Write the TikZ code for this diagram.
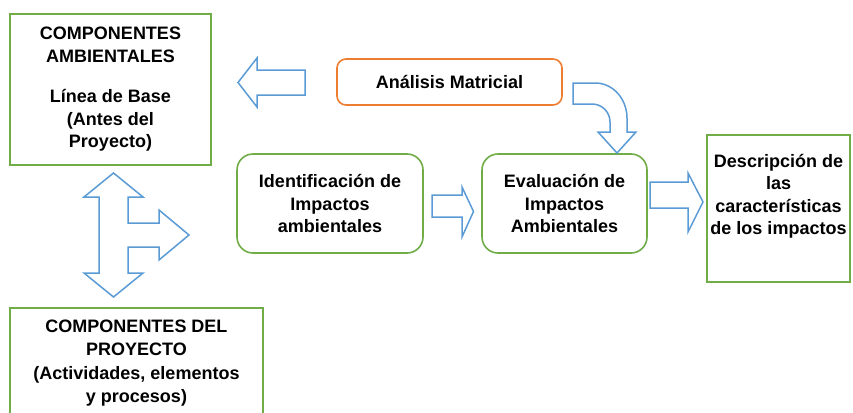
\documentclass[tikz,border=0pt]{standalone}
\usepackage{fontspec}
\setmainfont{Liberation Sans}
\definecolor{boxgreen}{HTML}{70AD47}
\definecolor{boxorange}{HTML}{ED7D31}
\definecolor{arrowblue}{HTML}{5B9BD5}
\begin{document}
\begin{tikzpicture}[x=1pt,y=-1pt,
  txt/.style={align=center,font=\bfseries\fontsize{18}{22.5}\selectfont,text=black},
  greenbox/.style={draw=boxgreen,line width=1.6pt,fill=white,inner sep=0pt},
  roundgreen/.style={greenbox,rounded corners=16pt},
  orangebox/.style={draw=boxorange,line width=1.6pt,rounded corners=9pt,inner sep=0pt},
  blockarrow/.style={draw=arrowblue,line width=1.5pt,fill=white,line join=miter}]
\useasboundingbox (0,0) rectangle (853,412);

% boxes
\node[greenbox,txt,minimum width=201pt,minimum height=151pt] (amb) at (110.5,89.5)
  {COMPONENTES\\AMBIENTALES\\[18pt]Línea de Base\\(Antes del\\Proyecto)};
\node[orangebox,txt,minimum width=225pt,minimum height=46pt] (mat) at (449.5,82)
  {Análisis Matricial};
\node[roundgreen,txt,minimum width=186pt,minimum height=99pt] (ide) at (330,203.5)
  {Identificación de\\Impactos\\ambientales};
\node[roundgreen,txt,minimum width=165pt,minimum height=99pt] (eva) at (564.5,203.5)
  {Evaluación de\\Impactos\\Ambientales};
\node[greenbox,minimum width=143pt,minimum height=147pt] (des) at (778.5,208.5) {};
\node[txt] (destxt) at ([yshift=12pt]des.center)
  {Descripción de\\las\\características\\de los impactos};
\begin{scope}
\clip (0,0) rectangle (853,412);
\node[greenbox,txt,minimum width=253pt,minimum height=110pt,font=\bfseries\fontsize{18}{23.3}\selectfont] (pro) at (136.5,363)
  {COMPONENTES DEL\\PROYECTO\\(Actividades, elementos\\y procesos)};
\end{scope}

% left block arrow (from Analisis towards Componentes ambientales)
\draw[blockarrow] (305,70) -- (257,70) -- (257,58) -- (238,82.5) -- (257,107) -- (257,95) -- (305,95) -- cycle;

% Identificacion -> Evaluacion
\draw[blockarrow] (432,195) -- (462,195) -- (462,187) -- (473.5,211.5) -- (462,237) -- (462,217) -- (432,217) -- cycle;

% Evaluacion -> Descripcion
\draw[blockarrow] (650,182) -- (688,182) -- (688,173) -- (703,202) -- (688,232) -- (688,208) -- (650,208) -- cycle;

% curved arrow from Analisis to Evaluacion
\draw[blockarrow] (573,83) -- (595,83) .. controls (614,83) and (627,100) .. (627,118)
  -- (627,132) -- (636,132) -- (617,153) -- (598,132) -- (610,132) -- (610,122)
  .. controls (610,112) and (602,104) .. (592,104) -- (573,104) -- cycle;

% triple arrow
\draw[blockarrow] (113.5,173) -- (143,197) -- (128,197) -- (128,223) -- (159,223) -- (159,210)
  -- (189,235) -- (159,260) -- (159,247) -- (128,247) -- (128,273) -- (143,273)
  -- (113.5,297) -- (84,273) -- (99,273) -- (99,197) -- (84,197) -- cycle;
\end{tikzpicture}
\end{document}
